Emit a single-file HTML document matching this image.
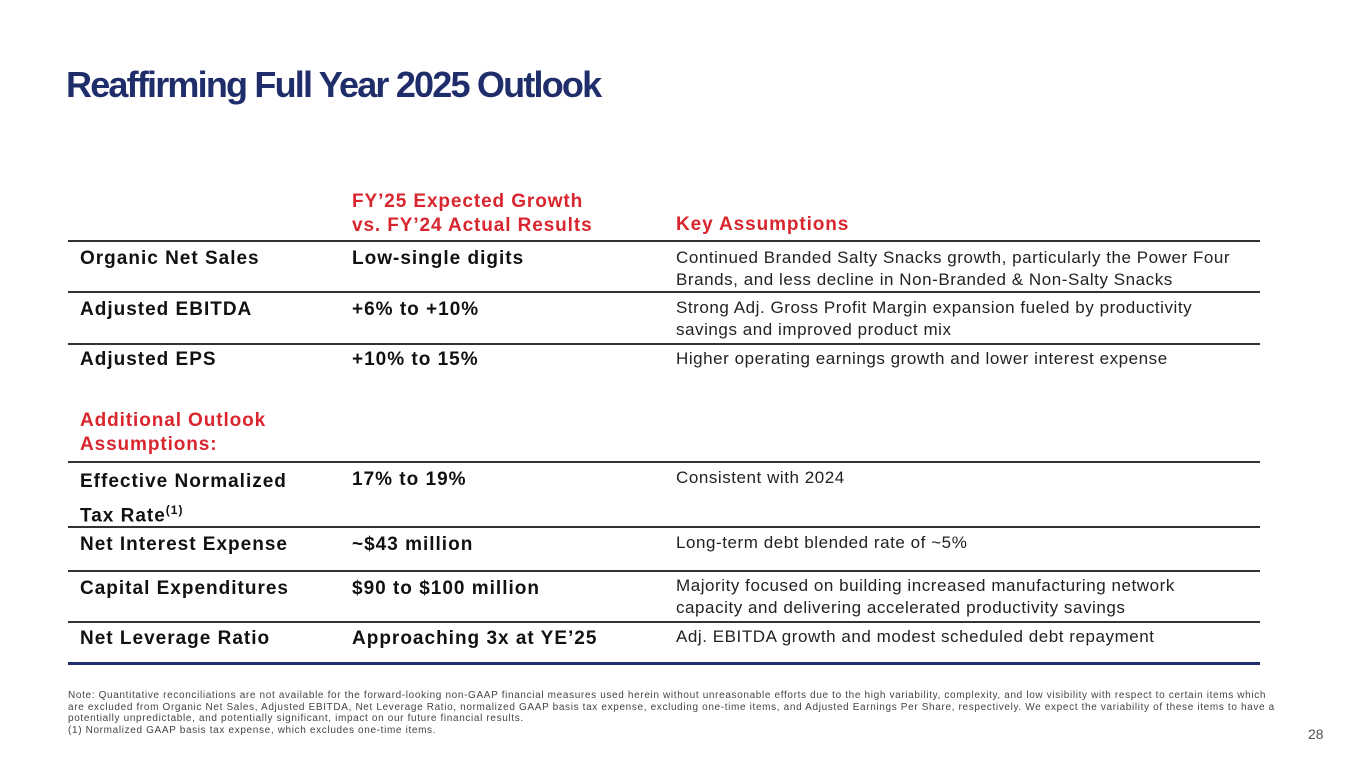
<!DOCTYPE html>
<html><head><meta charset="utf-8">
<style>
body{margin:0;width:1365px;height:768px;background:#fff;position:relative;overflow:hidden;font-family:"Liberation Sans",sans-serif;color:#1a1a1a}
.a{position:absolute;white-space:nowrap}
.title{left:66px;top:64px;font-size:36px;font-weight:bold;color:#1f2e6b;letter-spacing:-1.8px}
.red{color:#d9262e;font-weight:bold;font-size:19px;line-height:24px;letter-spacing:0.9px}
.lab{font-weight:bold;font-size:19px;line-height:24px;color:#111;letter-spacing:1px}
.txt{font-size:17px;line-height:22px;color:#222;letter-spacing:0.55px}
.line{position:absolute;left:68px;width:1192px;height:1.5px;background:#333}
.note{left:68px;top:690px;font-size:10px;line-height:11.5px;color:#444;letter-spacing:0.65px}
</style></head><body>
<div class="a title">Reaffirming Full Year 2025 Outlook</div>

<div class="a red" style="left:352px;top:190px">FY’25 Expected Growth<br>vs. FY’24 Actual Results</div>
<div class="a red" style="left:676px;top:213px">Key Assumptions</div>

<div class="line" style="top:240px"></div>
<div class="a lab" style="left:80px;top:247px">Organic Net Sales</div>
<div class="a lab" style="left:352px;top:247px">Low-single digits</div>
<div class="a txt" style="left:676px;top:247px">Continued Branded Salty Snacks growth, particularly the Power Four<br>Brands, and less decline in Non-Branded &amp; Non-Salty Snacks</div>

<div class="line" style="top:291px"></div>
<div class="a lab" style="left:80px;top:298px">Adjusted EBITDA</div>
<div class="a lab" style="left:352px;top:298px">+6% to +10%</div>
<div class="a txt" style="left:676px;top:297px">Strong Adj. Gross Profit Margin expansion fueled by productivity<br>savings and improved product mix</div>

<div class="line" style="top:343px"></div>
<div class="a lab" style="left:80px;top:348px">Adjusted EPS</div>
<div class="a lab" style="left:352px;top:348px">+10% to 15%</div>
<div class="a txt" style="left:676px;top:348px">Higher operating earnings growth and lower interest expense</div>

<div class="a red" style="left:80px;top:409px">Additional Outlook<br>Assumptions:</div>

<div class="line" style="top:461px"></div>
<div class="a lab" style="left:80px;top:467px;line-height:29px">Effective Normalized<br>Tax Rate<sup style="font-size:12px">(1)</sup></div>
<div class="a lab" style="left:352px;top:468px">17% to 19%</div>
<div class="a txt" style="left:676px;top:467px">Consistent with 2024</div>

<div class="line" style="top:526px"></div>
<div class="a lab" style="left:80px;top:533px">Net Interest Expense</div>
<div class="a lab" style="left:352px;top:533px">~$43 million</div>
<div class="a txt" style="left:676px;top:532px">Long-term debt blended rate of ~5%</div>

<div class="line" style="top:570px"></div>
<div class="a lab" style="left:80px;top:577px">Capital Expenditures</div>
<div class="a lab" style="left:352px;top:577px">$90 to $100 million</div>
<div class="a txt" style="left:676px;top:575px">Majority focused on building increased manufacturing network<br>capacity and delivering accelerated productivity savings</div>

<div class="line" style="top:621px"></div>
<div class="a lab" style="left:80px;top:627px">Net Leverage Ratio</div>
<div class="a lab" style="left:352px;top:627px">Approaching 3x at YE’25</div>
<div class="a txt" style="left:676px;top:626px">Adj. EBITDA growth and modest scheduled debt repayment</div>

<div class="line" style="top:662px;height:2.5px;background:#1f2e6b"></div>

<div class="a note">Note: Quantitative reconciliations are not available for the forward-looking non-GAAP financial measures used herein without unreasonable efforts due to the high variability, complexity, and low visibility with respect to certain items which<br>are excluded from Organic Net Sales, Adjusted EBITDA, Net Leverage Ratio, normalized GAAP basis tax expense, excluding one-time items, and Adjusted Earnings Per Share, respectively. We expect the variability of these items to have a<br>potentially unpredictable, and potentially significant, impact on our future financial results.<br>(1) Normalized GAAP basis tax expense, which excludes one-time items.</div>
<div class="a" style="left:1308px;top:726px;font-size:14px;color:#555">28</div>
</body></html>
